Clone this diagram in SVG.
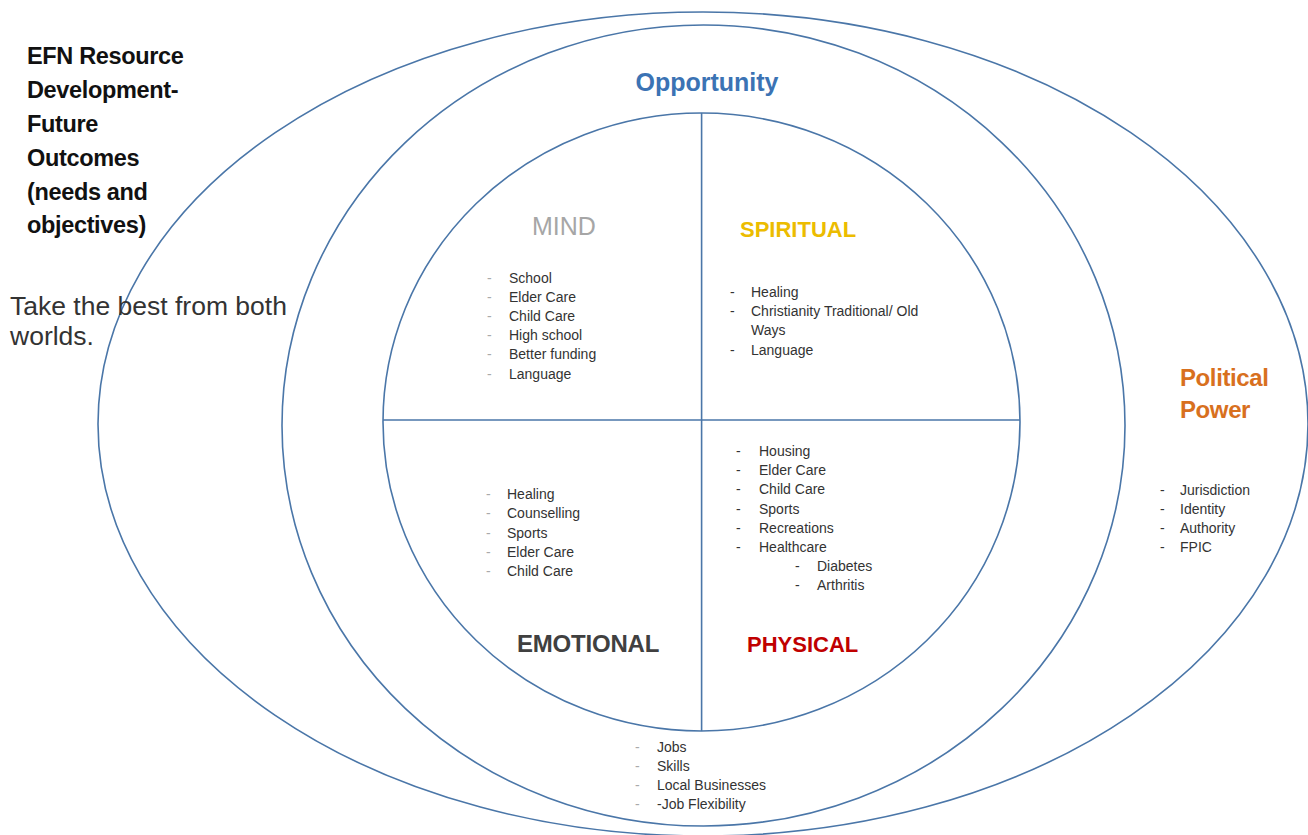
<svg xmlns="http://www.w3.org/2000/svg" width="1308" height="835" viewBox="0 0 1308 835">
<style>
.ring{fill:none;stroke:#4a76a8;stroke-width:1.6}
.div{stroke:#4a76a8;stroke-width:1.6}
.li{font-family:"Liberation Sans",Arial,sans-serif;font-size:14px;fill:#333}
.bl{fill:#aaa}
.title{font-family:"Liberation Sans",Arial,sans-serif;font-size:23.5px;font-weight:bold;fill:#111;letter-spacing:-0.35px}
.note{font-family:"Liberation Sans",Arial,sans-serif;font-size:26.5px;fill:#333}
.hd{font-family:"Liberation Sans",Arial,sans-serif;font-weight:bold}
</style>
<rect width="1308" height="835" fill="#fff"/>

<g id="political-power">
<ellipse class="ring" cx="703" cy="424" rx="605" ry="412"/>
<text class="hd" x="1180" y="386" font-size="24" fill="#d8701e" letter-spacing="-0.4">Political</text>
<text class="hd" x="1180" y="418" font-size="24" fill="#d8701e" letter-spacing="-0.4">Power</text>
<g class="li">
<text x="1160" y="495">-</text><text x="1180" y="495">Jurisdiction</text>
<text x="1160" y="514">-</text><text x="1180" y="514">Identity</text>
<text x="1160" y="533">-</text><text x="1180" y="533">Authority</text>
<text x="1160" y="552">-</text><text x="1180" y="552">FPIC</text>
</g>
</g>

<g id="opportunity">
<ellipse class="ring" cx="703.5" cy="425.5" rx="421.5" ry="400.5"/>
<text class="hd" x="707" y="91" font-size="25" fill="#3b73b4" text-anchor="middle">Opportunity</text>
<g class="li">
<text class="bl" x="635" y="752">-</text><text x="657" y="752">Jobs</text>
<text class="bl" x="635" y="771">-</text><text x="657" y="771">Skills</text>
<text class="bl" x="635" y="790">-</text><text x="657" y="790">Local Businesses</text>
<text class="bl" x="635" y="809">-</text><text x="657" y="809">-Job Flexibility</text>
</g>
</g>

<g id="wheel">
<ellipse class="ring" cx="701.5" cy="422" rx="318.5" ry="309"/>
</g>

<g id="connectors">
<line class="div" x1="701.6" y1="113" x2="701.6" y2="731"/>
<line class="div" x1="383" y1="420" x2="1020" y2="420"/>
</g>

<g id="mind">
<text x="532" y="235" font-family="Liberation Sans,Arial,sans-serif" font-size="25" fill="#a6a6a6">MIND</text>
<g class="li">
<text class="bl" x="487" y="283">-</text><text x="509" y="283">School</text>
<text class="bl" x="487" y="302">-</text><text x="509" y="302">Elder Care</text>
<text class="bl" x="487" y="321">-</text><text x="509" y="321">Child Care</text>
<text class="bl" x="487" y="340">-</text><text x="509" y="340">High school</text>
<text class="bl" x="487" y="359">-</text><text x="509" y="359">Better funding</text>
<text class="bl" x="487" y="379">-</text><text x="509" y="379">Language</text>
</g>
</g>

<g id="spiritual">
<text class="hd" x="740" y="237" font-size="22" fill="#ecbc00">SPIRITUAL</text>
<g class="li">
<text x="730" y="297">-</text><text x="751" y="297">Healing</text>
<text x="730" y="316">-</text><text x="751" y="316">Christianity Traditional/ Old</text>
<text x="751" y="335">Ways</text>
<text x="730" y="355">-</text><text x="751" y="355">Language</text>
</g>
</g>

<g id="emotional">
<text class="hd" x="517" y="652" font-size="24" fill="#404040" letter-spacing="-0.2">EMOTIONAL</text>
<g class="li">
<text class="bl" x="486" y="499">-</text><text x="507" y="499">Healing</text>
<text class="bl" x="486" y="518">-</text><text x="507" y="518">Counselling</text>
<text class="bl" x="486" y="538">-</text><text x="507" y="538">Sports</text>
<text class="bl" x="486" y="557">-</text><text x="507" y="557">Elder Care</text>
<text class="bl" x="486" y="576">-</text><text x="507" y="576">Child Care</text>
</g>
</g>

<g id="physical">
<text class="hd" x="747" y="652" font-size="22" fill="#c00000">PHYSICAL</text>
<g class="li">
<text x="736" y="456">-</text><text x="759" y="456">Housing</text>
<text x="736" y="475">-</text><text x="759" y="475">Elder Care</text>
<text x="736" y="494">-</text><text x="759" y="494">Child Care</text>
<text x="736" y="514">-</text><text x="759" y="514">Sports</text>
<text x="736" y="533">-</text><text x="759" y="533">Recreations</text>
<text x="736" y="552">-</text><text x="759" y="552">Healthcare</text>
<text x="795" y="571">-</text><text x="817" y="571">Diabetes</text>
<text x="795" y="590">-</text><text x="817" y="590">Arthritis</text>
</g>
</g>

<g id="title">
<text class="title" x="27" y="64">EFN Resource</text>
<text class="title" x="27" y="98">Development-</text>
<text class="title" x="27" y="132">Future</text>
<text class="title" x="27" y="166">Outcomes</text>
<text class="title" x="27" y="200">(needs and</text>
<text class="title" x="27" y="233">objectives)</text>
</g>

<g id="note">
<text class="note" x="10" y="315">Take the best from both</text>
<text class="note" x="10" y="345">worlds.</text>
</g>
</svg>
